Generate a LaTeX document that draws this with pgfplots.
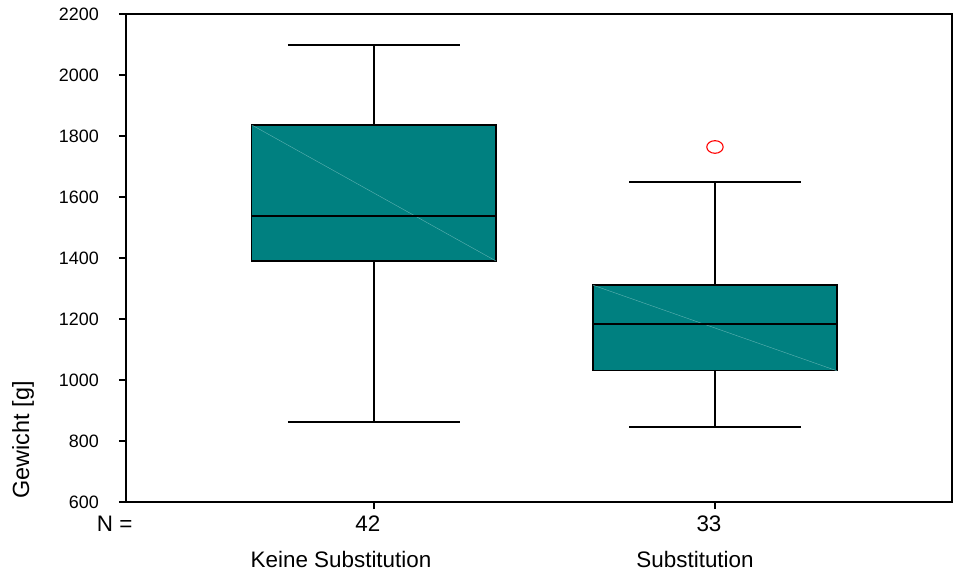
\documentclass[border=0pt]{standalone}
\usepackage{fontspec}
\setmainfont{Liberation Sans}
\usepackage{pgfplots}
\pgfplotsset{compat=1.18}
\definecolor{boxteal}{RGB}{0,128,128}
\definecolor{diagteal}{RGB}{95,178,178}
\begin{document}
\begin{tikzpicture}
\path[use as bounding box] (-126bp,-76bp) rectangle (838bp,502bp);
\begin{axis}[
  at={(0,0)}, anchor=south west,
  scale only axis, width=826bp, height=488bp,
  xmin=0.273, xmax=2.695, ymin=600, ymax=2200,
  ytick={600,800,1000,1200,1400,1600,1800,2000,2200},
  xtick={1,2},
  xticklabels={42,33},
  xtick pos=bottom, ytick pos=left,
  tick align=outside,
  major tick length=7bp,
  tick style={black, line width=1.2bp},
  axis line style={black, line width=1.6bp},
  /pgf/number format/assume math mode=true,
  /pgf/number format/1000 sep={},
  every y tick label/.append style={font=\fontsize{18}{21}\selectfont, black, anchor=east, inner sep=0pt, xshift=-20bp},
  every x tick label/.append style={font=\fontsize{22.5}{26}\selectfont, black, anchor=north, inner sep=0pt, yshift=-7bp, xshift=-6bp},
  ylabel={Gewicht [g]},
  ylabel style={font=\fontsize{23.5}{27}\selectfont, at={(rel axis cs:-0.1174,0)}, anchor=base west},
  clip=false,
]
% Keine Substitution
\addplot[black, line width=1.3bp] coordinates {(1,1836) (1,2098)};
\addplot[black, line width=1.3bp] coordinates {(0.748,2098) (1.252,2098)};
\addplot[black, line width=1.3bp] coordinates {(1,1390) (1,862)};
\addplot[black, line width=1.3bp] coordinates {(0.748,862) (1.252,862)};
\addplot[fill=boxteal, draw=black, line width=1.3bp] coordinates {(0.642,1390) (1.358,1390) (1.358,1836) (0.642,1836)} -- cycle;
\addplot[diagteal, line width=0.4bp] coordinates {(0.642,1836) (1.358,1390)};
\addplot[black, line width=1.3bp] coordinates {(0.642,1538) (1.358,1538)};
% Substitution
\addplot[black, line width=1.3bp] coordinates {(2,1311) (2,1649)};
\addplot[black, line width=1.3bp] coordinates {(1.748,1649) (2.252,1649)};
\addplot[black, line width=1.3bp] coordinates {(2,1030) (2,846)};
\addplot[black, line width=1.3bp] coordinates {(1.748,846) (2.252,846)};
\addplot[fill=boxteal, draw=black, line width=1.3bp] coordinates {(1.642,1030) (2.358,1030) (2.358,1311) (1.642,1311)} -- cycle;
\addplot[diagteal, line width=0.4bp] coordinates {(1.642,1311) (2.358,1030)};
\addplot[black, line width=1.3bp] coordinates {(1.642,1184) (2.358,1184)};
% outlier
\addplot[only marks, mark=o, mark size=6.3bp, red, mark options={xscale=1.3, line width=1.1bp}]
   coordinates {(2,1764)};
\node[font=\fontsize{22.5}{26}\selectfont, anchor=base east] at (axis cs:0.302,600) [yshift=-29bp] {N =};
\node[font=\fontsize{22.5}{26}\selectfont, anchor=base] at (axis cs:0.9035,600) [yshift=-65bp] {Keine Substitution};
\node[font=\fontsize{22.5}{26}\selectfont, anchor=base] at (axis cs:1.9416,600) [yshift=-65bp] {Substitution};
\end{axis}
\end{tikzpicture}
\end{document}
